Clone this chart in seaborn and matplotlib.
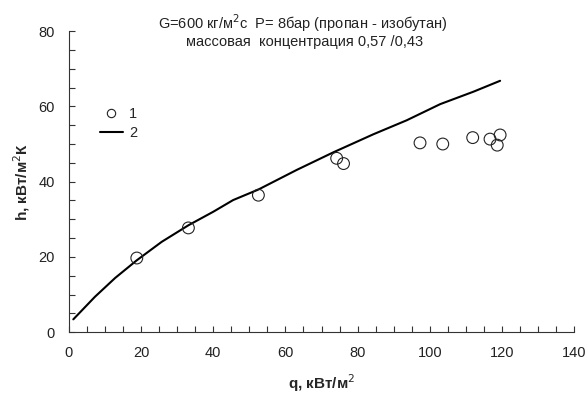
import matplotlib
matplotlib.use("Agg")
import matplotlib.pyplot as plt
import seaborn as sns
import pandas as pd
from matplotlib.lines import Line2D
from matplotlib.ticker import MultipleLocator

# experimental points (1)
q_exp = [18.8, 33.1, 52.5, 74.2, 76.1, 97.3, 103.6, 111.9, 116.7, 119.5, 118.7]
h_exp = [19.7, 27.7, 36.4, 46.2, 44.8, 50.3, 50.0, 51.7, 51.3, 52.4, 49.7]

# calculated curve (2)
q_calc = [1.2, 7.2, 12.8, 18.8, 25.7, 33.1, 40.0, 45.5, 52.5, 63.1, 73.3, 84.4, 93.6, 102.9, 112.1, 119.5]
h_calc = [3.4, 9.4, 14.4, 19.1, 24.0, 28.4, 32.0, 35.1, 37.9, 43.1, 47.8, 52.6, 56.3, 60.6, 63.9, 66.8]

x_ticks = [0, 20, 40, 60, 80, 100, 120, 140]
y_ticks = [0, 20, 40, 60, 80]

sns.set_style("ticks")
plt.rcParams['font.family'] = ['Liberation Sans', 'DejaVu Sans']

fig = plt.figure(figsize=(5.87, 3.94), dpi=100)
ax = fig.add_axes([0.1175, 0.157, 0.8605, 0.764])

exp_df = pd.DataFrame({'q': q_exp, 'h': h_exp})
calc_df = pd.DataFrame({'q': q_calc, 'h': h_calc})

sns.lineplot(data=calc_df, x='q', y='h', color='black', linewidth=1.5, ax=ax, sort=False)
sns.scatterplot(data=exp_df, x='q', y='h', s=72, facecolor='none', edgecolor='#222222',
                linewidth=0.8, ax=ax, zorder=3)

ax.set_xlim(0, 140)
ax.set_ylim(0, 80)
ax.set_xticks(x_ticks)
ax.set_yticks(y_ticks)
ax.xaxis.set_minor_locator(MultipleLocator(5))
ax.yaxis.set_minor_locator(MultipleLocator(5))
ax.tick_params(which='both', direction='in', length=4, width=0.8, color='#333333',
               labelsize=10.5, labelcolor='#222222')
ax.tick_params(axis='x', pad=10)
ax.tick_params(axis='y', pad=10)
for side in ['top', 'right']:
    ax.spines[side].set_visible(False)
for side in ['left', 'bottom']:
    ax.spines[side].set_color('#333333')
    ax.spines[side].set_linewidth(0.8)

ax.set_xlabel('q, кВт/м$^2$', fontsize=11, fontweight='bold', labelpad=9)
ax.set_ylabel('h, кВт/м$^2$К', fontsize=11, fontweight='bold', labelpad=5)

fig.text(0.516, 0.942, 'G=600 кг/м$^2$с  P= 8бар (пропан - изобутан)',
         ha='center', va='center', fontsize=10.5, color='#222222')
fig.text(0.519, 0.893, 'массовая  концентрация 0,57 /0,43',
         ha='center', va='center', fontsize=10.5, color='#222222')

handles = [
    Line2D([], [], linestyle='none', marker='o', markersize=6, markerfacecolor='none',
           markeredgecolor='#222222', markeredgewidth=0.8),
    Line2D([], [], color='black', linewidth=1.5),
]
ax.legend(handles, ['1', '2'], loc='upper left', bbox_to_anchor=(0.035, 0.79), frameon=False,
          fontsize=10.5, handlelength=1.6, handletextpad=0.4, labelspacing=0.3)

fig.savefig('out.png', dpi=100)
